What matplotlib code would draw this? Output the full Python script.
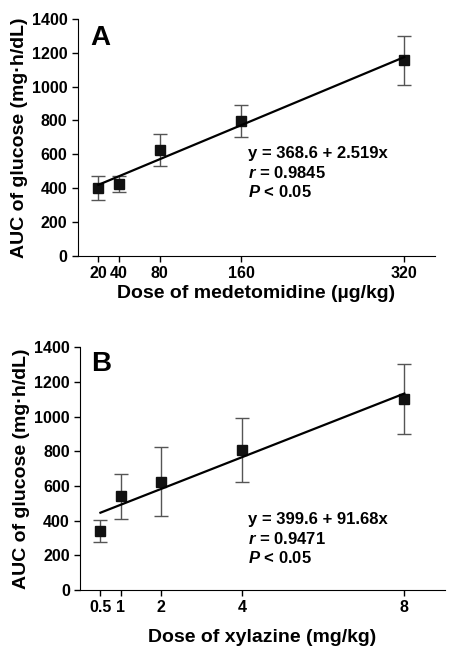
import matplotlib.pyplot as plt

plt.rcParams['font.family'] = ['Liberation Sans', 'DejaVu Sans']
plt.rcParams['font.weight'] = 'bold'
plt.rcParams['mathtext.fontset'] = 'custom'
plt.rcParams['mathtext.rm'] = 'Liberation Sans:bold'
plt.rcParams['mathtext.it'] = 'Liberation Sans:bold:italic'

# panel A: medetomidine
med_dose = [20, 40, 80, 160, 320]
med_auc = [400, 425, 625, 795, 1155]
med_err = [72, 48, 92, 95, 145]
med_fit = (368.6, 2.519)
med_stats = ["y = 368.6 + 2.519x", "$\\mathit{r}$ = 0.9845", "$\\mathit{P}$ < 0.05"]

# panel B: xylazine
xyl_dose = [0.5, 1, 2, 4, 8]
xyl_auc = [340, 540, 625, 805, 1100]
xyl_err = [63, 130, 197, 185, 203]
xyl_fit = (399.6, 91.68)
xyl_stats = ["y = 399.6 + 91.68x", "$\\mathit{r}$ = 0.9471", "$\\mathit{P}$ < 0.05"]


def draw_panel(ax, dose, auc, err, fit, stats, letter, xlabel, xmax, text_xy, letter_xy, xpad):
    ax.errorbar(dose, auc, yerr=err, fmt='none', ecolor='#555555', elinewidth=1.0,
                capsize=5, capthick=1.0, zorder=2)
    ax.plot(dose, auc, 's', color='#111111', markersize=7.5, zorder=3)
    a, b = fit
    x0, x1 = dose[0], dose[-1]
    ax.plot([x0, x1], [a + b * x0, a + b * x1], color='black', lw=1.6, zorder=4)

    ax.set_xlim(0, xmax)
    ax.set_ylim(0, 1400)
    ax.set_xticks(dose)
    ax.set_xticklabels([f"{d:g}" for d in dose])
    ax.set_yticks(range(0, 1401, 200))
    ax.spines['top'].set_visible(False)
    ax.spines['right'].set_visible(False)
    ax.tick_params(direction='out', length=4, width=1, labelsize=11.5)
    for lab in ax.get_xticklabels() + ax.get_yticklabels():
        lab.set_fontweight('bold')
    ax.set_xlabel(xlabel, fontsize=14, fontweight='bold', labelpad=xpad)
    ax.set_ylabel("AUC of glucose (mg·h/dL)", fontsize=14, fontweight='bold', labelpad=3)
    ax.text(letter_xy[0], letter_xy[1], letter, transform=ax.transAxes, fontsize=20,
            fontweight='bold', va='center', ha='left')
    tx, ty = text_xy
    for i, s in enumerate(stats):
        ax.text(tx, ty - i * 0.08, s, transform=ax.transAxes, fontsize=12,
                fontweight='bold', va='center', ha='left')


fig = plt.figure(figsize=(4.53, 6.54), dpi=100)
ax_a = fig.add_axes([0.172, 0.609, 0.788, 0.362])
ax_b = fig.add_axes([0.177, 0.098, 0.805, 0.371])

draw_panel(ax_a, med_dose, med_auc, med_err, med_fit, med_stats, "A",
           "Dose of medetomidine (µg/kg)", 350, (0.477, 0.43), (0.035, 0.92), 3)
draw_panel(ax_b, xyl_dose, xyl_auc, xyl_err, xyl_fit, xyl_stats, "B",
           "Dose of xylazine (mg/kg)", 9, (0.46, 0.29), (0.03, 0.93), 10)

fig.savefig("out.png", dpi=100)
